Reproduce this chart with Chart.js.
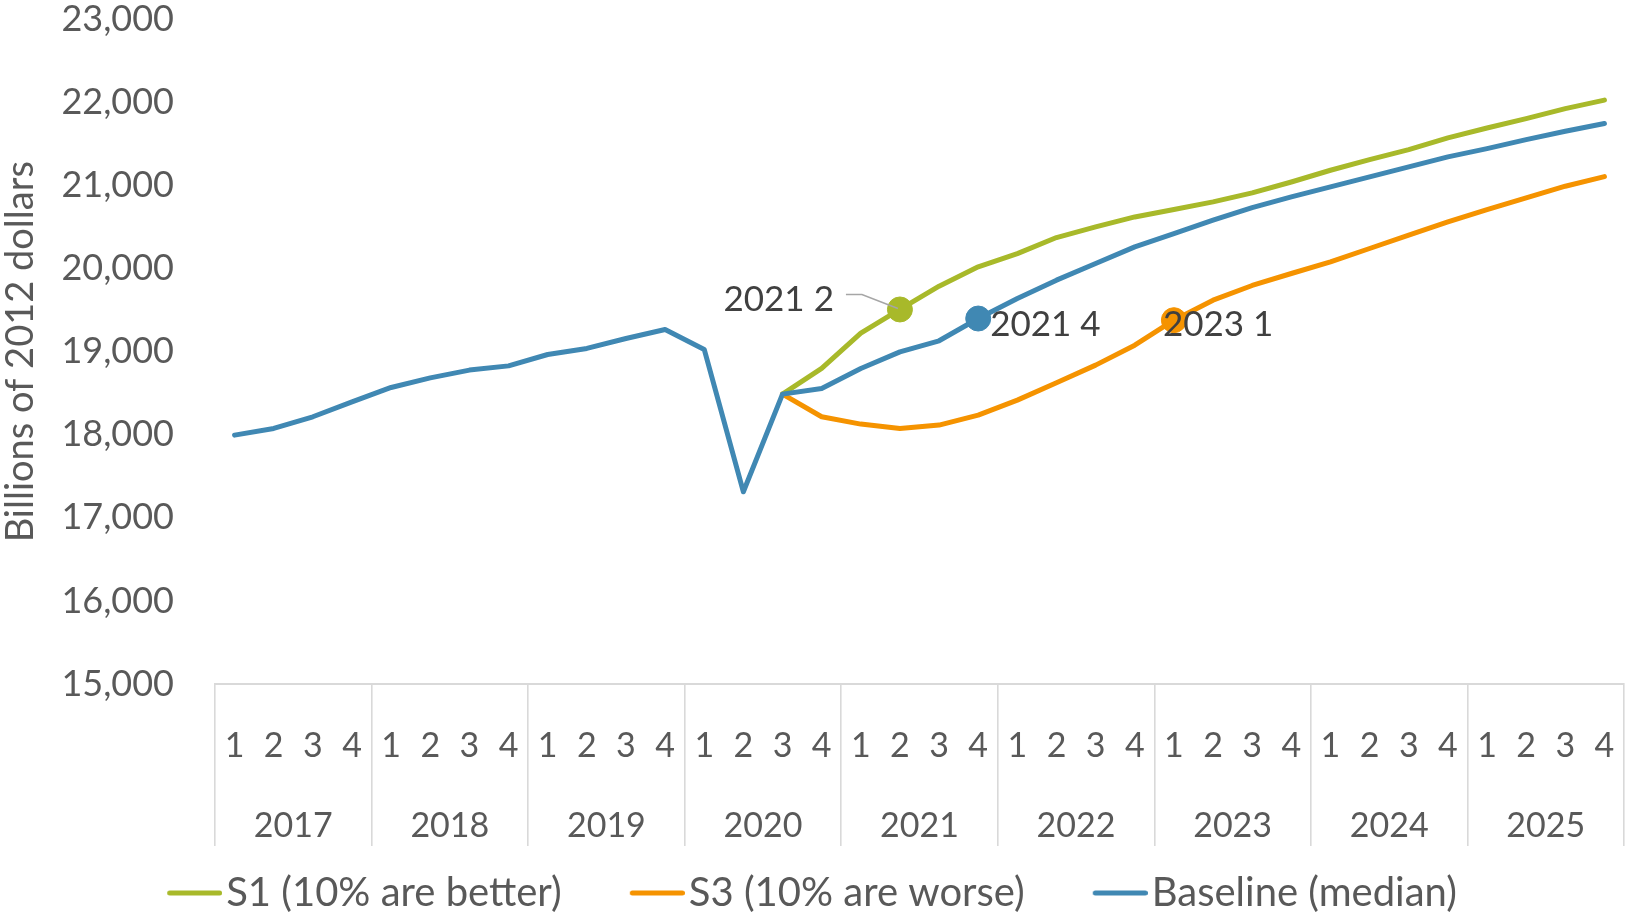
<!DOCTYPE html>
<html><head><meta charset="utf-8">
<script src="https://cdn.jsdelivr.net/npm/chart.js@4"></script>
<style>html,body{margin:0;padding:0;background:#fff;overflow:hidden}canvas{display:block}</style>
</head><body>
<canvas id="c" width="1627" height="913"></canvas>
<script>
// ---- data ----
const years = ['2017', '2018', '2019', '2020', '2021', '2022', '2023', '2024', '2025'];
const quarters = ['1', '2', '3', '4'];
const categories = years.flatMap(() => quarters);

const baseline = [
  17996, 18077, 18217, 18397,
  18570, 18686, 18779, 18830,
  18967, 19040, 19160, 19268,
  19028, 17314, 18490, 18558,
  18799, 18999, 19132, 19400,
  19641, 19862, 20062, 20263,
  20423, 20584, 20736, 20864,
  20985, 21105, 21225, 21346,
  21446, 21554, 21655, 21747
];
const s1Better = [
  null, null, null, null,
  null, null, null, null,
  null, null, null, null,
  null, null, 18490, 18799,
  19225, 19509, 19789, 20022,
  20182, 20375, 20503, 20623,
  20712, 20804, 20912, 21044,
  21185, 21314, 21434, 21574,
  21694, 21807, 21927, 22030
];
const s3Worse = [
  null, null, null, null,
  null, null, null, null,
  null, null, null, null,
  null, null, 18490, 18217,
  18129, 18077, 18117, 18237,
  18418, 18626, 18839, 19079,
  19380, 19621, 19798, 19942,
  20082, 20243, 20403, 20563,
  20712, 20852, 20993, 21108
];
const seriesNames = ['S1 (10% are better)', 'S3 (10% are worse)', 'Baseline (median)'];
const yTicks = [15000, 16000, 17000, 18000, 19000, 20000, 21000, 22000, 23000];
const yTitle = 'Billions of 2012 dollars';
// highlighted points (category index)
const markS1 = 17, markBase = 19, markS3 = 24;

// ---- styles ----
const GREEN = '#a8b92a', ORANGE = '#f59300', BLUE = '#4088b3';
const TXT = '#595959', LBL = '#404040', AXIS = '#d9d9d9';
const yearCenters = years.map((y, i) => i * 4 + 1.5);
const yearBounds = years.map((y, i) => i * 4 - 0.5).concat([categories.length - 0.5]);

function pointLabel(i) { return years[Math.floor(i / 4)] + ' ' + categories[i]; }

function xLabel(v) {
  if (Number.isInteger(v)) return categories[v];
  const yi = yearCenters.indexOf(v);
  if (yi >= 0) return ['', years[yi]];
  return '';
}

// legend line sample drawn into a small canvas (used as pointStyle)
function legendSample(color) {
  const c = document.createElement('canvas');
  c.width = 71; c.height = 8;
  const g = c.getContext('2d');
  g.strokeStyle = color; g.lineWidth = 5; g.lineCap = 'round';
  g.beginPath(); g.moveTo(18.5, 4); g.lineTo(68.5, 4); g.stroke();
  return c;
}

const labelPlugin = {
  id: 'pointLabels',
  afterDatasetsDraw(chart) {
    const ctx = chart.ctx;
    ctx.save();
    ctx.font = '35px Lato';
    ctx.fillStyle = LBL;
    ctx.textBaseline = 'middle';
    let p = chart.getDatasetMeta(0).data[markS1];
    ctx.strokeStyle = '#a6a6a6';
    ctx.lineWidth = 1.5;
    ctx.beginPath();
    ctx.moveTo(p.x - 54, p.y - 15);
    ctx.lineTo(p.x - 38, p.y - 15);
    ctx.lineTo(p.x - 2, p.y - 1);
    ctx.stroke();
    ctx.textAlign = 'right';
    ctx.fillText(pointLabel(markS1), p.x - 66, p.y - 10);
    p = chart.getDatasetMeta(2).data[markBase];
    ctx.textAlign = 'left';
    ctx.fillText(pointLabel(markBase), p.x + 12, p.y + 6);
    p = chart.getDatasetMeta(1).data[markS3];
    ctx.fillText(pointLabel(markS3), p.x - 11, p.y + 5);
    ctx.restore();
  }
};

function marker(idx) { return c => c.dataIndex === idx ? 12.5 : 0; }

function build() {
  Chart.defaults.font.family = 'Lato';
  Chart.defaults.color = TXT;
  const samples = [legendSample(GREEN), legendSample(ORANGE), legendSample(BLUE)];
  new Chart(document.getElementById('c'), {
    type: 'line',
    data: {
      labels: categories,
      datasets: [
        { label: seriesNames[0], data: s1Better, borderColor: GREEN, backgroundColor: GREEN, order: 1,
          pointRadius: marker(markS1), pointBackgroundColor: GREEN, pointBorderColor: GREEN, pointBorderWidth: 1 },
        { label: seriesNames[1], data: s3Worse, borderColor: ORANGE, backgroundColor: ORANGE, order: 2,
          pointRadius: marker(markS3), pointBackgroundColor: ORANGE, pointBorderColor: ORANGE, pointBorderWidth: 1 },
        { label: seriesNames[2], data: baseline, borderColor: BLUE, backgroundColor: BLUE, order: 0,
          pointRadius: marker(markBase), pointBackgroundColor: BLUE, pointBorderColor: BLUE, pointBorderWidth: 1 }
      ]
    },
    options: {
      responsive: false,
      animation: false,
      devicePixelRatio: 1,
      elements: { line: { borderWidth: 5, tension: 0, borderCapStyle: 'round', borderJoinStyle: 'round' } },
      layout: { padding: { left: 0, right: 3, top: 0, bottom: -10 } },
      plugins: {
        tooltip: { enabled: false },
        legend: {
          position: 'bottom',
          labels: {
            font: { size: 40 },
            color: TXT,
            usePointStyle: true,
            pointStyleWidth: 39,
            boxHeight: 8,
            padding: 68,
            sort: (a, b) => a.datasetIndex - b.datasetIndex,
            generateLabels: chart => Chart.defaults.plugins.legend.labels.generateLabels(chart)
              .map(l => Object.assign(l, { pointStyle: samples[l.datasetIndex], lineWidth: 0 }))
          }
        }
      },
      scales: {
        x: { type: 'category', offset: true, display: false },
        x2: {
          type: 'linear',
          position: 'bottom',
          min: -0.5,
          max: categories.length - 0.5,
          grid: {
            drawOnChartArea: false,
            drawTicks: true,
            tickLength: 162,
            lineWidth: 1.6,
            color: c => (c.tick && yearBounds.includes(c.tick.value)) ? AXIS : 'rgba(0,0,0,0)'
          },
          border: { display: true, color: AXIS, width: 2 },
          afterBuildTicks: s => {
            s.ticks = categories.map((q, i) => i).concat(yearCenters, yearBounds)
              .sort((a, b) => a - b).map(v => ({ value: v }));
          },
          ticks: { font: { size: 34, lineHeight: '80px' }, color: TXT, mirror: true, padding: -102.5,
                   maxRotation: 0, autoSkip: false, callback: v => xLabel(v) },
          afterFit: s => { s.height = 121; s.paddingLeft = 0; s.paddingRight = 0; }
        },
        y: {
          min: yTicks[0],
          max: yTicks[yTicks.length - 1],
          grid: { display: false, drawTicks: false },
          border: { display: false },
          afterBuildTicks: s => { s.ticks = yTicks.map(v => ({ value: v })); },
          ticks: { font: { size: 36, lineHeight: 1.1 }, color: TXT, padding: 41,
                   callback: v => v.toLocaleString('en-US') },
          title: { display: true, text: yTitle, color: TXT, font: { size: 38, lineHeight: 1.1 }, padding: 0 },
          afterFit: s => { s.width = 215; s.paddingTop = 19.5; s.paddingBottom = 0; }
        }
      }
    },
    plugins: [labelPlugin]
  });
}
(document.fonts && document.fonts.load ? Promise.all([document.fonts.load('36px Lato')]).catch(() => {}) : Promise.resolve())
  .then(build, build);
</script>
</body></html>
